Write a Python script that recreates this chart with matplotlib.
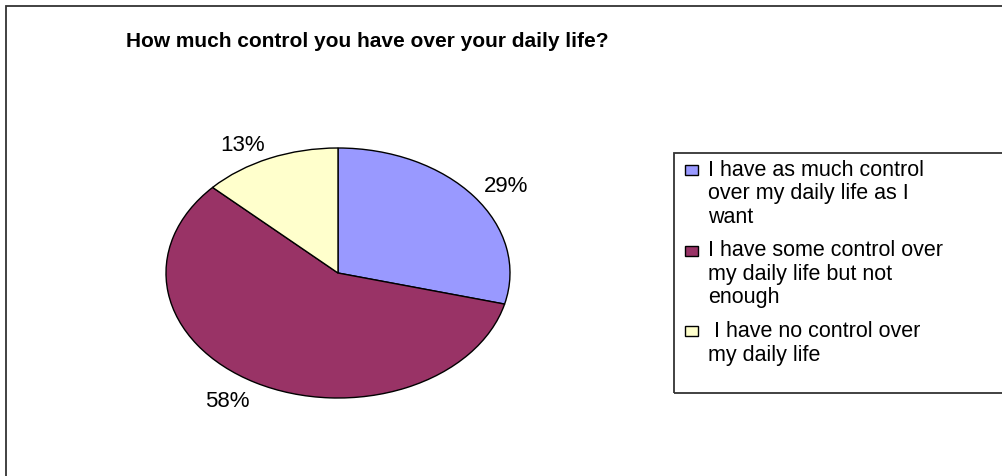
import numpy as np
import matplotlib.pyplot as plt
from matplotlib.patches import Rectangle

plt.rcParams['font.family'] = ['Liberation Sans', 'DejaVu Sans']

# data
labels = ['I have as much control\nover my daily life as I\nwant',
          'I have some control over\nmy daily life but not\nenough',
          ' I have no control over\nmy daily life']
shares = [29, 58, 13]
colors = ['#9999FF', '#993366', '#FFFFCC']
title = 'How much control you have over your daily life?'

W, H = 1002, 477
fig = plt.figure(figsize=(W / 100, H / 100), dpi=100)


def px(x, y):
    # pixel position (from top-left) -> figure fraction
    return x / W, 1 - y / H


# outer chart border (runs off the right and bottom edges)
fig.patches.append(Rectangle((5.5 / W, -0.05), 1.1, 1 - 6.5 / H + 0.05,
                             transform=fig.transFigure, fill=False,
                             edgecolor='#333333', linewidth=1.3))

# pie axes, stretched into an ellipse like the excel chart
ax = fig.add_axes([166 / W, 1 - 399 / H, 344 / W, 250 / H])
wedges, _ = ax.pie(shares, colors=colors, startangle=90, counterclock=False,
                   wedgeprops={'edgecolor': 'black', 'linewidth': 1.0})
ax.set_aspect('auto')
ax.set_xlim(-1, 1)
ax.set_ylim(-1, 1)
ax.axis('off')

# percentage labels just outside the rim, anchored by the nearest corner
for w, v in zip(wedges, shares):
    mid = np.deg2rad((w.theta1 + w.theta2) / 2)
    x, y = 1.07 * np.cos(mid), 1.07 * np.sin(mid)
    ax.text(x, y, '{}%'.format(v), fontsize=16,
            ha='left' if x > 0 else 'right',
            va='baseline' if y > 0 else 'top', clip_on=False)

fig.text(*px(367, 47), title, ha='center', va='baseline',
         fontsize=15, fontweight='bold')

# legend, drawn by hand so the keys line up with the first text line
fig.patches.append(Rectangle(px(674, 394), 0.5, 240 / H,
                             transform=fig.transFigure, fill=False,
                             edgecolor='#333333', linewidth=1.3))
pitch, gap = 23.5, 10
base = 176
for lab, c in zip(labels, colors):
    fig.patches.append(Rectangle(px(685, base), 13 / W, 10 / H,
                                 transform=fig.transFigure, facecolor=c,
                                 edgecolor='black', linewidth=1.0))
    lines = lab.split('\n')
    for j, line in enumerate(lines):
        fig.text(*px(708, base + j * pitch), line, fontsize=15.5,
                 ha='left', va='baseline')
    base += pitch * len(lines) + gap

fig.savefig('out.png', dpi=100)
